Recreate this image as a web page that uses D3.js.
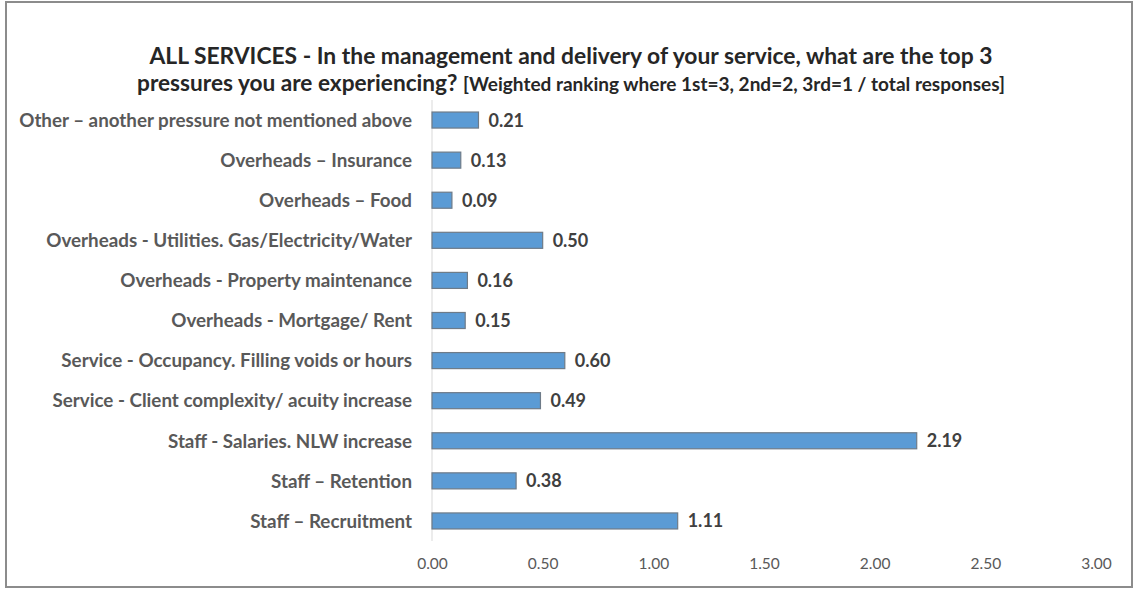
<!DOCTYPE html>
<html>
<head>
<meta charset="utf-8">
<script src="https://cdn.jsdelivr.net/npm/d3@7"></script>
<style>
  body { margin: 0; background: #fff; }
  svg text { font-family: Lato, "Open Sans", sans-serif; }
</style>
</head>
<body>
<svg id="chart" width="1134" height="590"></svg>
<script>
// categories, top to bottom as drawn
const categories = [
  "Other \u2013 another pressure not mentioned above",
  "Overheads \u2013 Insurance",
  "Overheads \u2013 Food",
  "Overheads - Utilities. Gas/Electricity/Water",
  "Overheads - Property maintenance",
  "Overheads - Mortgage/ Rent",
  "Service - Occupancy. Filling voids or hours",
  "Service - Client complexity/ acuity increase",
  "Staff - Salaries. NLW increase",
  "Staff \u2013 Retention",
  "Staff \u2013 Recruitment"
];
const values = [0.21, 0.13, 0.09, 0.50, 0.16, 0.15, 0.60, 0.49, 2.19, 0.38, 1.11];
const tickValues = [0, 0.5, 1, 1.5, 2, 2.5, 3];

const titleLine1 = "ALL SERVICES - In the management and delivery of your service, what are the top 3";
const titleLine2a = "pressures you are experiencing? ";
const titleLine2b = "[Weighted ranking where 1st=3, 2nd=2, 3rd=1 / total responses]";

const svg = d3.select("#chart");

// outer frame
svg.append("rect")
  .attr("x", 6).attr("y", 2)
  .attr("width", 1126).attr("height", 585)
  .attr("fill", "#fff")
  .attr("stroke", "#8c8c8c")
  .attr("stroke-width", 2);

const x = d3.scaleLinear().domain([0, 3]).range([432, 1096]);
const y = d3.scaleBand()
  .domain(categories)
  .range([100, 541])
  .paddingInner(0.6)
  .paddingOuter(0.3);

// helper: shrink/grow font so the text spans the wanted width
function fitWidth(sel, width) {
  const node = sel.node();
  const size = parseFloat(sel.attr("font-size"));
  const w = node.getComputedTextLength();
  sel.attr("font-size", (size * width / w).toFixed(2));
}

// title
const t1 = svg.append("text")
  .attr("x", 571).attr("y", 64)
  .attr("text-anchor", "middle")
  .attr("font-size", 18).attr("font-weight", "bold")
  .attr("fill", "#262626")
  .text(titleLine1);
fitWidth(t1, 843);

const t2 = svg.append("text")
  .attr("x", 571).attr("y", 91)
  .attr("text-anchor", "middle")
  .attr("font-weight", "bold")
  .attr("fill", "#262626");
t2.append("tspan").attr("font-size", t1.attr("font-size")).text(titleLine2a);
t2.append("tspan").attr("font-size", (t1.attr("font-size") * 0.84).toFixed(2)).text(titleLine2b);
// scale second line as a whole to its width
{
  const w = t2.node().getComputedTextLength();
  const k = 868 / w;
  t2.selectAll("tspan").each(function() {
    const s = d3.select(this);
    s.attr("font-size", (parseFloat(s.attr("font-size")) * k).toFixed(2));
  });
}

// vertical axis line
svg.append("line")
  .attr("x1", x(0)).attr("x2", x(0))
  .attr("y1", 100).attr("y2", 541)
  .attr("stroke", "#d9d9d9")
  .attr("stroke-width", 1);

// bars
svg.selectAll(".bar")
  .data(values)
  .enter().append("rect")
  .attr("class", "bar")
  .attr("x", x(0))
  .attr("y", (d, i) => y(categories[i]))
  .attr("width", d => x(d) - x(0))
  .attr("height", y.bandwidth())
  .attr("fill", "#5b9bd5")
  .attr("stroke", "#6e7b88")
  .attr("stroke-width", 1.2);

// value labels
svg.selectAll(".val")
  .data(values)
  .enter().append("text")
  .attr("class", "val")
  .attr("x", d => x(d) + 10)
  .attr("y", (d, i) => y(categories[i]) + y.bandwidth() / 2)
  .attr("dy", "0.36em")
  .attr("font-size", 18).attr("font-weight", "bold")
  .attr("fill", "#404040")
  .text(d => d.toFixed(2));

// category labels
const cats = svg.selectAll(".cat")
  .data(categories)
  .enter().append("text")
  .attr("class", "cat")
  .attr("x", 412)
  .attr("y", d => y(d) + y.bandwidth() / 2)
  .attr("dy", "0.36em")
  .attr("text-anchor", "end")
  .attr("font-size", 15).attr("font-weight", "bold")
  .attr("fill", "#595959")
  .text(d => d);
{
  const first = cats.filter((d, i) => i === 0);
  const k = 393 / first.node().getComputedTextLength();
  cats.attr("font-size", (15 * k).toFixed(2));
}

// x axis tick labels (no axis line in the original)
const xAxis = d3.axisBottom(x)
  .tickValues(tickValues)
  .tickSize(0)
  .tickPadding(0)
  .tickFormat(d3.format(".2f"));
const gx = svg.append("g")
  .attr("transform", "translate(0,558)")
  .call(xAxis);
gx.select(".domain").remove();
gx.selectAll("text")
  .attr("font-family", "Lato, 'Open Sans', sans-serif")
  .attr("font-size", 15.5)
  .attr("fill", "#595959");
</script>
</body>
</html>
